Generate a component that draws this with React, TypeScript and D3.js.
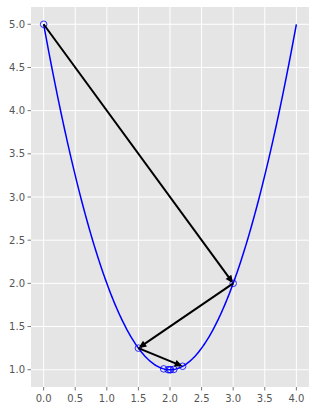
import React from "react";
import * as d3 from "d3";

const xTicks = [0, 0.5, 1, 1.5, 2, 2.5, 3, 3.5, 4];
const yTicks = [1, 1.5, 2, 2.5, 3, 3.5, 4, 4.5, 5];
const stepX = [0, 3, 1.5, 2.2, 1.9, 2.06, 1.97, 2.01, 1.995];
const arrowCount = 3;
const curveXs = d3.range(0, 4.0001, 0.02);
const f = (x: number) => (x - 2) * (x - 2) + 1;

export default function App() {
  const W = 316, H = 411;
  const left = 31, right = 309, top = 7, bottom = 387;
  const x = d3.scaleLinear().domain([-0.2, 4.2]).range([left, right]);
  const y = d3.scaleLinear().domain([0.8, 5.2]).range([bottom, top]);
  const line = d3.line<number>().x((d) => x(d)).y((d) => y(f(d)));
  const fmt = (v: number) => v.toFixed(1);
  const arrows = [] as { x1: number; y1: number; x2: number; y2: number }[];
  for (let i = 0; i < arrowCount; i++) {
    arrows.push({ x1: x(stepX[i]), y1: y(f(stepX[i])), x2: x(stepX[i + 1]), y2: y(f(stepX[i + 1])) });
  }
  return (
    <svg width={W} height={H} style={{ position: "absolute", left: 0, top: 0 }} fontFamily="DejaVu Sans">
      <rect x={left} y={top} width={right - left} height={bottom - top} fill="#E5E5E5" />
      {xTicks.map((t) => (
        <g key={"x" + t}>
          <line x1={x(t)} x2={x(t)} y1={top} y2={bottom} stroke="#fff" strokeWidth={1} />
          <line x1={x(t)} x2={x(t)} y1={bottom} y2={bottom + 3.5} stroke="#555" strokeWidth={0.8} />
          <text x={x(t)} y={bottom + 15} textAnchor="middle" fontSize={10} fill="#555">{fmt(t)}</text>
        </g>
      ))}
      {yTicks.map((t) => (
        <g key={"y" + t}>
          <line x1={left} x2={right} y1={y(t)} y2={y(t)} stroke="#fff" strokeWidth={1} />
          <line x1={left - 3.5} x2={left} y1={y(t)} y2={y(t)} stroke="#555" strokeWidth={0.8} />
          <text x={left - 6} y={y(t) + 3.5} textAnchor="end" fontSize={10} fill="#555">{fmt(t)}</text>
        </g>
      ))}
      <path d={line(curveXs) || ""} fill="none" stroke="#0000ff" strokeWidth={1.5} />
      {stepX.map((v, i) => (
        <circle key={"c" + i} cx={x(v)} cy={y(f(v))} r={3.3} fill="none" stroke="#0000ff" strokeWidth={0.8} />
      ))}
      {arrows.map((a, i) => {
        const dx = a.x2 - a.x1, dy = a.y2 - a.y1;
        const L = Math.hypot(dx, dy);
        const ux = dx / L, uy = dy / L;
        const hl = 8, hw = 3.5;
        const bx = a.x2 - ux * hl, by = a.y2 - uy * hl;
        const pts = [
          [a.x2, a.y2],
          [bx - uy * hw, by + ux * hw],
          [bx + uy * hw, by - ux * hw],
        ];
        return (
          <g key={"a" + i}>
            <line x1={a.x1} y1={a.y1} x2={bx + ux * 1} y2={by + uy * 1} stroke="#000" strokeWidth={2} />
            <polygon points={pts.map((p) => p.join(",")).join(" ")} fill="#000" />
          </g>
        );
      })}
    </svg>
  );
}
